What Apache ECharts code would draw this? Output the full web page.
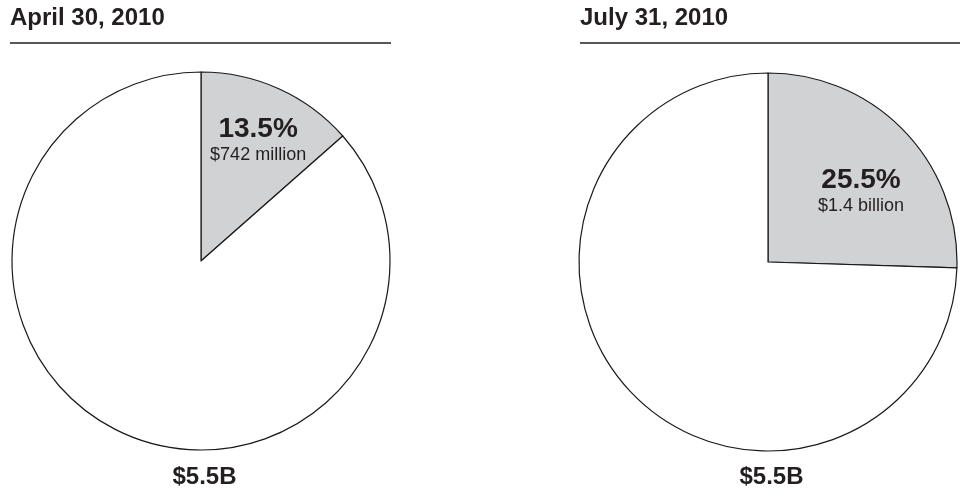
<!DOCTYPE html>
<html><head><meta charset="utf-8">
<script src="https://cdn.jsdelivr.net/npm/echarts@6/dist/echarts.min.js"></script>
<style>html,body{margin:0;padding:0;background:#fff}#c{width:965px;height:489px}</style>
</head><body><div id="c"></div>
<script>
const titles = ["April 30, 2010", "July 31, 2010"];
const sharePct = [13.5, 25.5];
const shareAmt = ["$742 million", "$1.4 billion"];
const totals = ["$5.5B", "$5.5B"];

const FONT = '"Liberation Sans", Arial, Helvetica, sans-serif';
const centers = [[201, 261], [768, 262]];
const offsets = [[17, -32], [23, -3]];
const lineX = [[10, 391], [580, 960]];

const chart = echarts.init(document.getElementById('c'), null, {renderer: 'canvas'});
const series = sharePct.map((p, i) => ({
  type: 'pie',
  center: centers[i],
  radius: 189,
  startAngle: 90,
  clockwise: true,
  silent: true,
  animation: false,
  labelLine: {show: false},
  itemStyle: {borderColor: '#1a1a1a', borderWidth: 1.2},
  emphasis: {disabled: true},
  data: [
    {value: p, itemStyle: {color: '#d1d2d4'},
     label: {show: true, position: 'inside', offset: offsets[i],
       formatter: '{p|' + p.toFixed(1) + '%}\n{v|' + shareAmt[i] + '}',
       rich: {
         p: {fontFamily: FONT, fontWeight: 'bold', fontSize: 28, color: '#231f20', lineHeight: 30, align: 'center'},
         v: {fontFamily: FONT, fontSize: 18, color: '#231f20', lineHeight: 22, align: 'center'}
       }}},
    {value: 100 - p, itemStyle: {color: '#ffffff'}, label: {show: false}}
  ]
}));

const graphics = [];
titles.forEach((t, i) => {
  graphics.push({type: 'text', left: lineX[i][0], top: 6,
    style: {text: t, font: 'bold 24px ' + FONT, fill: '#231f20'}});
  graphics.push({type: 'line', shape: {x1: lineX[i][0], y1: 43, x2: lineX[i][1], y2: 43},
    style: {stroke: '#231f20', lineWidth: 1.3}});
  graphics.push({type: 'text', x: centers[i][0] + 3.5, y: 465,
    style: {text: totals[i], font: 'bold 24px ' + FONT, fill: '#231f20', textAlign: 'center'}});
});

chart.setOption({
  backgroundColor: '#ffffff',
  animation: false,
  series: series,
  graphic: graphics
});
</script></body></html>
